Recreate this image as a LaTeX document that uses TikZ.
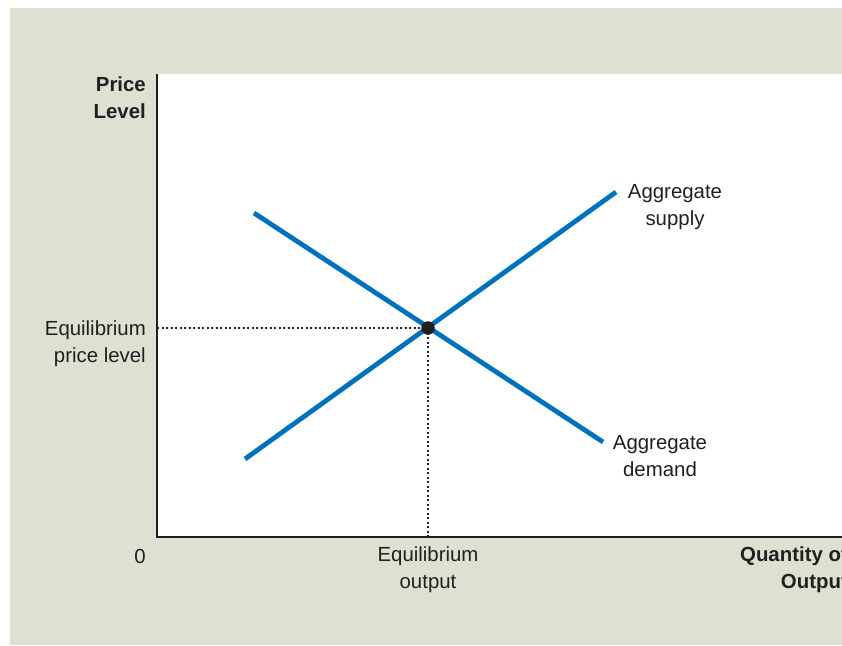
\documentclass[tikz,border=0pt]{standalone}
\usepackage{fontspec}
\setmainfont{Liberation Sans}
\definecolor{bggray}{RGB}{222,224,210}
\definecolor{curveblue}{RGB}{0,114,188}
\definecolor{txt}{RGB}{35,31,32}
\begin{document}
\begin{tikzpicture}[x=1pt,y=-1pt,
  lbl/.style={inner sep=0pt, text=txt, font=\fontsize{20.4}{27}\selectfont},
  blbl/.style={lbl, font=\fontsize{20.4}{27}\selectfont\bfseries},
  curve/.style={curveblue, line width=4.8pt},
  axisline/.style={txt, line width=1.4pt},
  guide/.style={txt, line width=2pt, dash pattern=on 2pt off 2.5pt}]
\useasboundingbox (0,0) rectangle (842,645);
\fill[white] (0,0) rectangle (842,645);
\fill[bggray] (10,8) rectangle (842,645);
\fill[white] (157,74) rectangle (842,537);
% axes
\coordinate (O) at (157,537);
\coordinate (ytop) at (157,74);
\coordinate (xend) at (842,537);
\draw[axisline] (ytop) -- (O) -- (xend);
% curves
\coordinate (as1) at (245,459);
\coordinate (as2) at (616,192);
\coordinate (ad1) at (254,213);
\coordinate (ad2) at (603,442);
\coordinate (E) at (428,328);
\coordinate (Ey) at (157,328);
\coordinate (Ex) at (428,537);
\draw[guide] (Ey) -- (E);
\draw[guide] (E) -- (Ex);
\draw[curve] (ad1) -- (ad2);
\draw[curve] (as1) -- (as2);
\node[circle, fill=txt, minimum size=13.5pt, inner sep=0pt] (dot) at (E) {};
% labels
\node[blbl, align=right, anchor=east] (py) at (146,97.5) {Price\\Level};
\node[lbl, align=right, anchor=east] (epl) at (146,343.5) {Equilibrium\\price level};
\node[lbl, anchor=east] (zero) at (146,556) {0};
\node[lbl, align=center] (eo) at (428,570) {Equilibrium\\output};
\node[blbl, align=right, anchor=east] (qo) at (848,570) {Quantity of\\Output};
\node[lbl, align=center] (asl) at (675,207.5) {Aggregate\\supply};
\node[lbl, align=center] (adl) at (660,456.5) {Aggregate\\demand};
\end{tikzpicture}
\end{document}
